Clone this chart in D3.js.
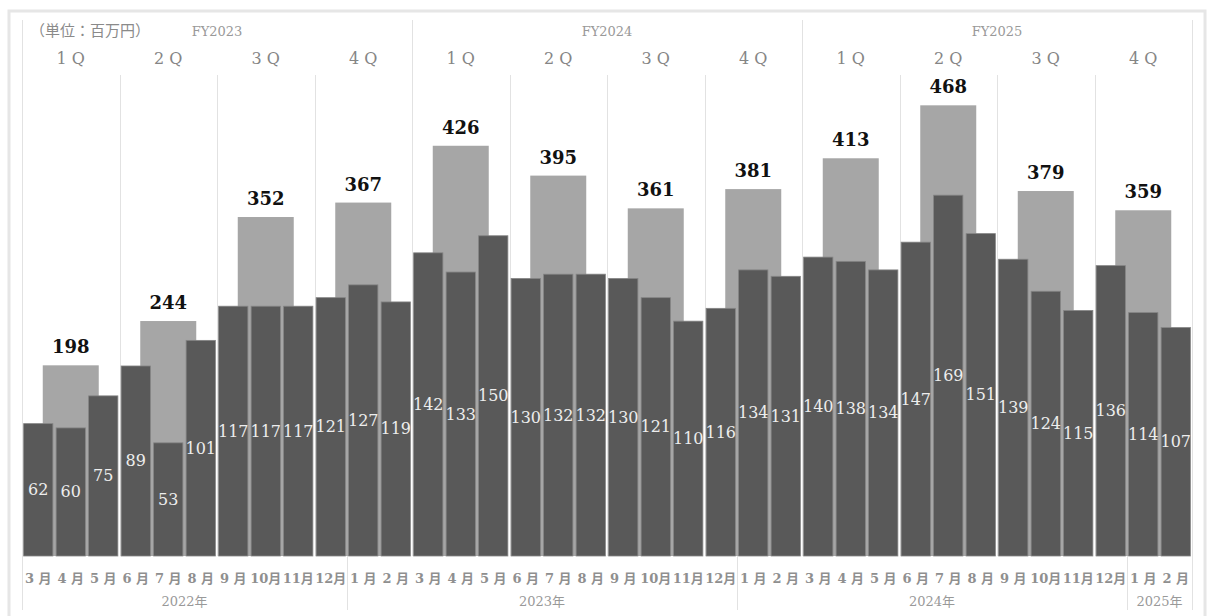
<!DOCTYPE html>
<html>
<head>
<meta charset="utf-8">
<script src="https://cdn.jsdelivr.net/npm/d3@7"></script>
<style>
  body { margin: 0; background: #fff; }
  svg text { font-family: "DejaVu Serif", "Noto Sans CJK JP", serif; }
</style>
</head>
<body>
<div class="chart"></div>
<script>
var monthLabels = [
  '3 月', '4 月', '5 月', '6 月', '7 月', '8 月', '9 月', '10月', '11月', '12月', '1 月', '2 月',
  '3 月', '4 月', '5 月', '6 月', '7 月', '8 月', '9 月', '10月', '11月', '12月', '1 月', '2 月',
  '3 月', '4 月', '5 月', '6 月', '7 月', '8 月', '9 月', '10月', '11月', '12月', '1 月', '2 月'
]
var monthValues = [
  62, 60, 75, 89, 53, 101, 117, 117, 117, 121, 127, 119,
  142, 133, 150, 130, 132, 132, 130, 121, 110, 116, 134, 131,
  140, 138, 134, 147, 169, 151, 139, 124, 115, 136, 114, 107
]
var quarterLabels = ['1 Q', '2 Q', '3 Q', '4 Q', '1 Q', '2 Q', '3 Q', '4 Q', '1 Q', '2 Q', '3 Q', '4 Q']
var quarterValues = [198, 244, 352, 367, 426, 395, 361, 381, 413, 468, 379, 359]
var fyLabels = ['FY2023', 'FY2024', 'FY2025']
// calendar years: label + number of months covered
var yearLabels = ['2022年', '2023年', '2024年', '2025年']
var yearMonths = [10, 12, 12, 2]

var W = 1208, H = 616
var left = 22, right = 1192, base = 556

var svg = d3.select('.chart')
  .append('svg')
    .attr('width', W)
    .attr('height', H)

// outer frame
svg.append('rect')
  .attr('x', 9).attr('y', 11)
  .attr('width', 1196).attr('height', 620)
  .attr('fill', 'none')
  .attr('stroke', '#e6e6e6')
  .attr('stroke-width', 3)

var idx = d3.range(monthValues.length)

var x = d3.scaleBand()
  .domain(idx)
  .range([left, right])
  .paddingInner(0.1)
  .paddingOuter(0.05)

var step = x.step()
var edge = i => left + i * step   // boundary before month i

var yM = d3.scaleLinear().domain([0, 200]).range([base, base - 200 * 2.135])
var yQ = d3.scaleLinear().domain([0, 500]).range([base, base - 500 * 0.963])

var grid = svg.append('g')
  .attr('stroke', '#e2e2e2')
  .attr('stroke-width', 1)

// quarter dividers (short), fiscal-year dividers (full height)
d3.range(1, 12).forEach(function(q) {
  var xx = Math.round(edge(q * 3)) + 0.5
  grid.append('line')
    .attr('x1', xx).attr('x2', xx)
    .attr('y1', q % 4 === 0 ? 20 : 75).attr('y2', base)
})
// outer left/right lines
;[0, 36].forEach(function(i) {
  var xx = Math.round(edge(i)) + 0.5
  grid.append('line')
    .attr('x1', xx).attr('x2', xx)
    .attr('y1', 20).attr('y2', 610)
})
// calendar year dividers under the axis
var acc = 0
yearMonths.slice(0, -1).forEach(function(n) {
  acc += n
  var xx = Math.round(edge(acc)) + 0.5
  grid.append('line')
    .attr('x1', xx).attr('x2', xx)
    .attr('y1', base).attr('y2', 610)
})

// quarterly bars (behind)
var qW = 56
svg.append('g')
  .selectAll('rect')
  .data(quarterValues)
  .enter()
    .append('rect')
    .attr('x', (d, i) => edge(i * 3 + 1.5) - qW / 2)
    .attr('y', d => yQ(d))
    .attr('width', qW)
    .attr('height', d => base - yQ(d))
    .attr('fill', '#a6a6a6')

// monthly bars
svg.append('g')
  .selectAll('rect')
  .data(monthValues)
  .enter()
    .append('rect')
    .attr('x', (d, i) => x(i))
    .attr('y', d => yM(d))
    .attr('width', x.bandwidth())
    .attr('height', d => base - yM(d))
    .attr('fill', '#595959')
    .attr('stroke', '#858585')
    .attr('stroke-width', 0.8)

// monthly value labels, centred in the bar
svg.append('g')
  .selectAll('text')
  .data(monthValues)
  .enter()
    .append('text')
    .attr('x', (d, i) => x(i) + x.bandwidth() / 2)
    .attr('y', d => (yM(d) + base) / 2)
    .attr('text-anchor', 'middle')
    .attr('dominant-baseline', 'central')
    .attr('fill', '#ededed')
    .style('font-size', '16px')
    .text(d => d)

// quarterly value labels
svg.append('g')
  .selectAll('text')
  .data(quarterValues)
  .enter()
    .append('text')
    .attr('x', (d, i) => edge(i * 3 + 1.5))
    .attr('y', d => yQ(d) - 12)
    .attr('text-anchor', 'middle')
    .attr('fill', '#111')
    .style('font-size', '18px')
    .style('font-weight', 'bold')
    .text(d => d)

// quarter labels
svg.append('g')
  .selectAll('text')
  .data(quarterLabels)
  .enter()
    .append('text')
    .attr('x', (d, i) => edge(i * 3 + 1.5))
    .attr('y', 64)
    .attr('text-anchor', 'middle')
    .attr('fill', '#858585')
    .style('font-size', '16px')
    .text(d => d)

// fiscal year labels
svg.append('g')
  .selectAll('text')
  .data(fyLabels)
  .enter()
    .append('text')
    .attr('x', (d, i) => edge(i * 12 + 6))
    .attr('y', 36)
    .attr('text-anchor', 'middle')
    .attr('fill', '#999')
    .style('font-size', '13px')
    .text(d => d)

svg.append('text')
  .attr('x', 30)
  .attr('y', 36)
  .attr('fill', '#8a8a8a')
  .style('font-size', '15px')
  .text('（単位：百万円）')

// month labels
svg.append('g')
  .selectAll('text')
  .data(monthLabels)
  .enter()
    .append('text')
    .attr('x', (d, i) => x(i) + x.bandwidth() / 2)
    .attr('y', 583)
    .attr('text-anchor', 'middle')
    .attr('fill', '#8f8f8f')
    .style('font-size', '13px')
    .style('font-weight', 'bold')
    .text(d => d)

// year labels
var start = 0
yearLabels.forEach(function(lab, i) {
  var n = yearMonths[i]
  svg.append('text')
    .attr('x', edge(start + n / 2))
    .attr('y', 606)
    .attr('text-anchor', 'middle')
    .attr('fill', '#999')
    .style('font-size', '13px')
    .text(lab)
  start += n
})
</script>
</body>
</html>
